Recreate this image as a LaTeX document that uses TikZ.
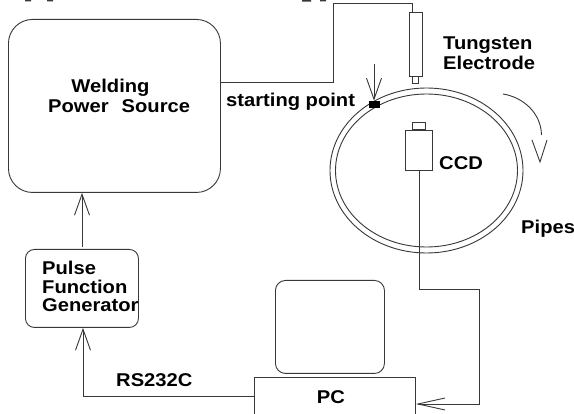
\documentclass[tikz,border=0pt]{standalone}
\usepackage{fontspec}
\setmainfont[FakeStretch=1.09]{Liberation Sans}
\usetikzlibrary{arrows.meta}
\definecolor{inkc}{gray}{0.22}
\tikzset{
 px/.style={x=1pt,y=-1pt},
 ln/.style={draw=inkc,line width=0.9pt},
 opn/.style={ln,-{Straight Barb[length=21pt,width=15pt,line width=0.9pt]}},
 opnlong/.style={ln,-{Straight Barb[length=27pt,width=12pt,line width=0.9pt]}},
 lbl/.style={font=\bfseries\fontsize{18.5}{18}\selectfont,inner sep=0pt,align=left,text=black},
}
\begin{document}
\begin{tikzpicture}[px]
\useasboundingbox (0,0) rectangle (574,414);
\fill[white] (0,0) rectangle (574,414);
% remains of cropped text at the top edge
\fill[inkc] (25,0) rectangle (31,1.3) (47,0) rectangle (53,1.3);
\fill[inkc] (302,0) rectangle (311,1.6) (320,0) rectangle (326,1.3);
% boxes
\node[ln,rounded corners=24pt,minimum width=212pt,minimum height=173pt,anchor=north west] (ws) at (8,19) {};
\node[lbl,anchor=center] at (110.5,88) {Welding};
\node[lbl,anchor=west] at (48,106) {Power\hspace{0.4em} Source};
\node[ln,rounded corners=9pt,minimum width=113pt,minimum height=78pt,anchor=north west] (pf) at (25,249) {};
\node[lbl,anchor=west] at (42,268) {Pulse};
\node[lbl,anchor=west] at (42,287) {Function};
\node[lbl,anchor=west] at (42,305) {Generator};
\node[ln,rounded corners=10pt,minimum width=109pt,minimum height=93pt,anchor=north west] (mon) at (275,280) {};
\node[ln,minimum width=161pt,minimum height=50pt,anchor=north west] (pc) at (254,377) {};
\node[lbl] at (331,397) {PC};
\node[lbl,anchor=west] at (116,380) {RS232C};
\node[ln,minimum width=13pt,minimum height=64pt,anchor=north west] (te) at (409,12) {};
\node[ln,minimum width=5pt,minimum height=6pt,anchor=north] (tip) at (415.5,76) {};
\node[lbl,anchor=west] at (443,45) {Tungsten};
\node[lbl,anchor=west] at (443,63) {Electrode};
\node[lbl,anchor=west] at (226,102) {starting point};
\node[lbl,anchor=west] at (439,163) {CCD};
\node[lbl,anchor=west] at (521,229) {Pipes};
% pipe
\draw[ln] (426.5,170.5) ellipse (96.5 and 82.5);
\draw[ln] (426.5,170.5) ellipse (91 and 76.5);
\node[fill=black,minimum width=11pt,minimum height=7.5pt,inner sep=0pt] (sp) at (374.5,104.5) {};
\coordinate (spt) at (374,64);
\draw[opn] (spt) -- (sp.north -| spt);
% CCD
\node[ln,minimum width=27pt,minimum height=40pt,anchor=north west] (ccd) at (405,130) {};
\node[ln,minimum width=13pt,minimum height=7pt,anchor=south] (cap) at (418.5,130) {};
% connectors
\coordinate (c1) at (419,289);
\coordinate (c2) at (479,289);
\coordinate (c3) at (479,404);
\draw[opnlong] (ccd.south -| c1) -- (c1) -- (c2) -- (c3) -- (pc.east |- c3);
\coordinate (w1) at (333,82);
\coordinate (w2) at (333,3);
\coordinate (w3) at (412,3);
\draw[ln] (ws.east |- w1) -- (w1) -- (w2) -- (w3) -- (te.north -| w3);
\coordinate (pfu) at (82,247);
\draw[opn] (pfu) -- (ws.south -| pfu);
\coordinate (r1) at (83,396);
\draw[opn] (pc.west |- r1) -- (r1) -- (pf.south -| r1);
% rotation arrow
\coordinate (ra) at (503,94);
\coordinate (rb) at (541.5,135);
\coordinate (rt) at (540,162);
\draw[ln] (ra) .. controls (522,97) and (541,112) .. (rb);
\draw[ln] (532,140) -- (rt) -- (547,140);
\end{tikzpicture}
\end{document}
